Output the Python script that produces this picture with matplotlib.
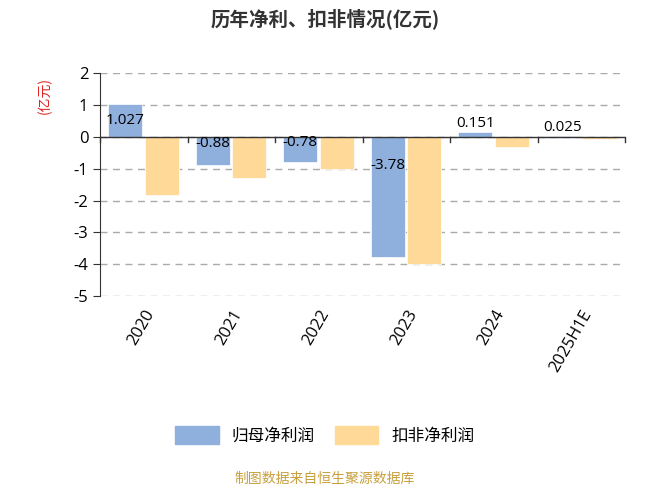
import matplotlib
matplotlib.use("Agg")
import matplotlib.pyplot as plt
import numpy as np

plt.rcParams["font.family"] = ["Noto Sans CJK SC", "DejaVu Sans"]

years = ["2020", "2021", "2022", "2023", "2024", "2025H1E"]
net_profit = [1.027, -0.88, -0.78, -3.78, 0.151, 0.025]
net_profit_labels = ["1.027", "-0.88", "-0.78", "-3.78", "0.151", "0.025"]
deducted = [-1.82, -1.30, -1.02, -3.98, -0.33, -0.08]

blue = "#8fafdc"
orange = "#ffd998"

fig = plt.figure(figsize=(6.5, 4.88), dpi=100)
ax = fig.add_axes([0.154, 0.393, 0.808, 0.457])

x = np.arange(len(years))
w = 0.39
ax.bar(x - 0.215, net_profit, w, color=blue, edgecolor="white", linewidth=0.5, zorder=3)
ax.bar(x + 0.205, deducted, w, color=orange, edgecolor="white", linewidth=0.5, zorder=3)

for xi, v, t in zip(x, net_profit, net_profit_labels):
    if v > 0.5:
        y, va = v / 2, "center"
    elif v > 0:
        y, va = v + 0.05, "bottom"
    else:
        y, va = v * 0.24, "center"
    ax.text(xi - 0.215, y, t, ha="center", va=va, fontsize=11, color="black",
            family="Open Sans", zorder=4)

ax.set_xlim(-0.5, len(years) - 0.5)
ax.set_ylim(-5, 2)
ax.set_yticks(range(-5, 3))
ax.set_yticklabels([str(v) for v in range(-5, 3)], family="Open Sans")
ax.tick_params(axis="y", labelsize=12, length=5, color="#333333")
ax.yaxis.grid(True, linestyle=(0, (5, 4)), color="#aaaaaa", linewidth=1, zorder=0)

for s in ["top", "right", "bottom"]:
    ax.spines[s].set_visible(False)
ax.spines["left"].set_color("#333333")
ax.axhline(0, color="#333333", linewidth=1, zorder=3)

ax.set_xticks(x)
ax.set_xticklabels(years, rotation=60, ha="right", rotation_mode="anchor", fontsize=12,
                   family="Open Sans")
ax.tick_params(axis="x", length=0, pad=8)
for b in np.arange(-0.5, len(years), 1.0):
    ax.plot([b, b], [0, -0.15], color="#333333", linewidth=1, zorder=3, clip_on=False)

fig.text(0.5, 0.962, "历年净利、扣非情况(亿元)", ha="center", va="center", fontsize=14, fontweight="bold", color="#333333")
fig.text(0.068, 0.805, "(亿元)", ha="center", va="center", rotation=90, fontsize=10, color="#e02020")

handles = [plt.Rectangle((0, 0), 1, 1, color=blue), plt.Rectangle((0, 0), 1, 1, color=orange)]
fig.legend(handles, ["归母净利润", "扣非净利润"], loc="center", bbox_to_anchor=(0.5, 0.108),
           ncol=2, frameon=False, fontsize=12, handlelength=2.6, handleheight=1.3, columnspacing=1.2)
fig.text(0.5, 0.018, "制图数据来自恒生聚源数据库", ha="center", va="center", fontsize=10, color="#c8a040")

fig.savefig("out.png", dpi=100)
